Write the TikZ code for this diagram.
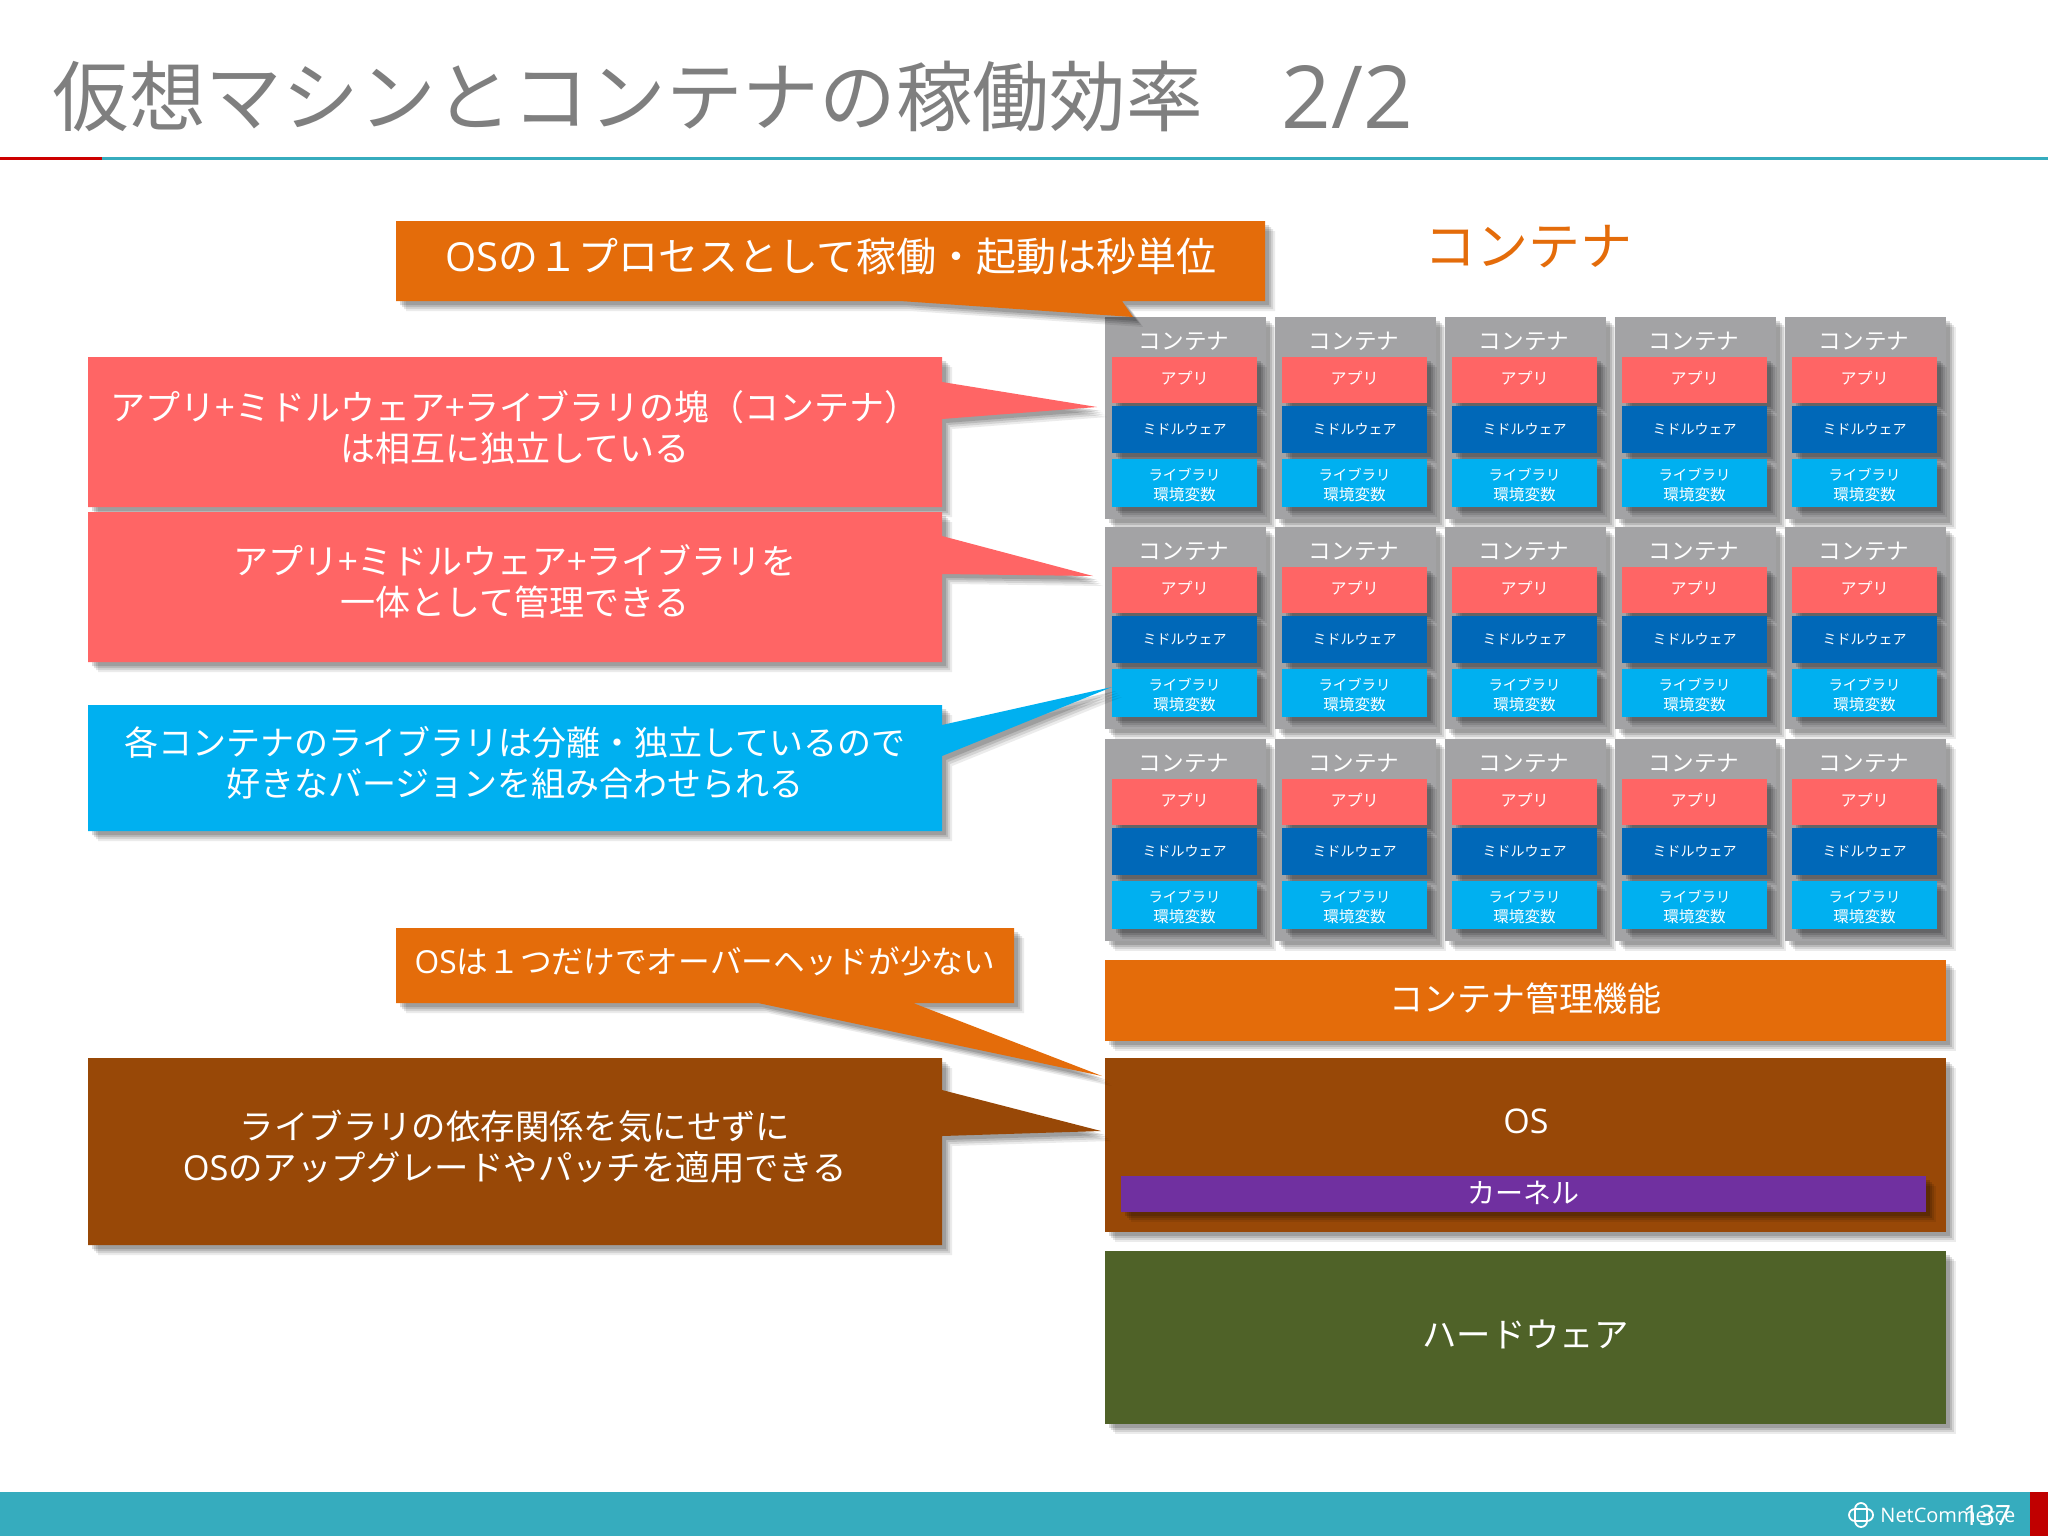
\documentclass[tikz,border=0pt]{standalone}
\usepackage{fontspec}
\setmainfont{Noto Sans CJK JP}
\newfontfamily\latinf{Open Sans}
\definecolor{cpink}{HTML}{FF6565}
\definecolor{cmid}{HTML}{0068B8}
\definecolor{clib}{HTML}{00B0F0}
\definecolor{corange}{HTML}{E46C0A}
\definecolor{cbrown}{HTML}{984807}
\definecolor{cpurple}{HTML}{7030A0}
\definecolor{cgreen}{HTML}{4F6228}
\definecolor{cgray}{HTML}{A3A3A5}
\definecolor{ctitle}{HTML}{7F7F7F}
\definecolor{cteal}{HTML}{36ACBE}
\definecolor{cred}{HTML}{C00000}
\newcommand\fs[1]{\fontsize{#1}{#1}\selectfont}
\newcommand\bx[7]{\pgfmathsetmacro\bw{(#4-#2)*0.5}\pgfmathsetmacro\bh{(#5-#3)*0.5}%
 \node[inner sep=0pt,outer sep=0pt,minimum width=\bw pt,minimum height=\bh pt,anchor=north west,align=center,#6] (#1) at (#2,#3) {#7};}
\tikzset{
 softshadow/.style={
  preaction={fill=black,opacity=.08,transform canvas={shift={(5pt,-5pt)}}},
  preaction={fill=black,opacity=.10,transform canvas={shift={(4pt,-4pt)}}},
  preaction={fill=black,opacity=.12,transform canvas={shift={(3pt,-3pt)}}},
  preaction={fill=black,opacity=.14,transform canvas={shift={(2pt,-2pt)}}}},
 wt/.style={text=white},
 calltext/.style={text=white,inner sep=0pt,align=center,font=\fontsize{#1}{20.5}\selectfont},
}
\begin{document}
\begin{tikzpicture}[x=0.5pt,y=-0.5pt]
\useasboundingbox (0,0) rectangle (2048,1536);
\fill[white] (0,0) rectangle (2048,1536);
% header
\node[anchor=west,inner sep=0pt,text=ctitle] (title) at (52,97) {\fs{38.35}仮想マシンとコンテナの稼働効率};
\node[anchor=west,inner sep=0pt,text=ctitle] (titlenum) at (1281,97) {\fs{43.5}\latinf 2/2};
\coordinate (la) at (0,158); \coordinate (lb) at (102,158); \coordinate (lc) at (2048,158);
\draw[cteal,line width=1.5pt] (lb) -- (lc);
\draw[cred!80!red,line width=1.5pt] (la) -- (lb);
\node[text=corange,inner sep=0pt] (ctitle2) at (1528,247) {\fs{26}コンテナ};
% container grid
\foreach \r/\yy in {0/317,1/527,2/739}{
 \foreach \c/\xx in {0/1105,1/1275,2/1445,3/1615,4/1785}{
  \pgfmathsetmacro\xa{\xx+161}\pgfmathsetmacro\yb{\yy+202}
  \bx{cont\r\c}{\xx}{\yy}{\xa}{\yb}{fill=cgray,softshadow}{}
  \node[wt,inner sep=0pt] (clabel\r\c) at (\xx+79,\yy+24) {\fs{11.3}コンテナ};
  \pgfmathsetmacro\xl{\xx+7}\pgfmathsetmacro\xr{\xx+152}
  \pgfmathsetmacro\ya{\yy+40}\pgfmathsetmacro\yc{\yy+86}
  \bx{app\r\c}{\xl}{\ya}{\xr}{\yc}{fill=cpink,wt,softshadow}{\raisebox{2.5pt}{\fs{8}アプリ}}
  \pgfmathsetmacro\ya{\yy+89}\pgfmathsetmacro\yc{\yy+136}
  \bx{mid\r\c}{\xl}{\ya}{\xr}{\yc}{fill=cmid,wt,softshadow}{\raisebox{-2pt}{\fs{7}ミドルウェア}}
  \pgfmathsetmacro\ya{\yy+142}\pgfmathsetmacro\yc{\yy+190}
  \bx{lib\r\c}{\xl}{\ya}{\xr}{\yc}{fill=clib,softshadow}{}
  \node[wt,inner sep=0pt,align=center,font=\fontsize{7.2}{10}\selectfont] (libtext\r\c) at (\xx+79.5,\yy+168) {ライブラリ\\\fontsize{7.8}{10}\selectfont 環境変数};
 }
}
% layers
\bx{mgmt}{1105}{960}{1946}{1041}{fill=corange,wt,softshadow}{\raisebox{3.5pt}{\fs{17}コンテナ管理機能}}
\bx{os}{1105}{1058}{1946}{1232}{fill=cbrown,softshadow}{}
\node[wt,inner sep=0pt] (oslabel) at (1526,1121) {\fs{17}\latinf OS};
\bx{kernel}{1121}{1176}{1926}{1212}{fill=cpurple,wt,softshadow}{\raisebox{2pt}{\fs{14}カーネル}}
\bx{hw}{1105}{1251}{1946}{1424}{fill=cgreen,wt,softshadow}{\raisebox{4pt}{\fs{17.2}ハードウェア}}
% callouts
\fill[corange,softshadow] (396,221) -- (1265,221) -- (1265,301) -- (1122,301) -- (1133,317) -- (900,301) -- (396,301) -- cycle;
\node[wt,inner sep=0pt] (call1) at (831,256) {\fs{20}{\latinf OS}の１プロセスとして稼働・起動は秒単位};
\fill[cpink,softshadow] (88,357) -- (942,357) -- (942,382) -- (1097,407) -- (942,419) -- (942,507) -- (88,507) -- cycle;
\node[calltext=17.5] (call2) at (515,427) {アプリ+ミドルウェア+ライブラリの塊（コンテナ）\\は相互に独立している};
\fill[cpink,softshadow] (88,512) -- (942,512) -- (942,536) -- (1093,576) -- (942,574) -- (942,662) -- (88,662) -- cycle;
\node[calltext=17.5] (call3) at (515,581) {アプリ+ミドルウェア+ライブラリを\\一体として管理できる};
\fill[clib,softshadow] (88,705) -- (942,705) -- (942,725) -- (1112,687) -- (942,756) -- (942,831) -- (88,831) -- cycle;
\node[calltext=17] (call4) at (515,763) {各コンテナのライブラリは分離・独立しているので\\好きなバージョンを組み合わせられる};
\fill[corange,softshadow] (396,928) -- (1014,928) -- (1014,1003) -- (913,1003) -- (1102,1076) -- (758,1003) -- (396,1003) -- cycle;
\node[wt,inner sep=0pt] (call5) at (705,961) {\fs{15.85}{\latinf OS}は１つだけでオーバーヘッドが少ない};
\fill[cbrown,softshadow] (88,1058) -- (942,1058) -- (942,1090) -- (1101,1131) -- (942,1136) -- (942,1245) -- (88,1245) -- cycle;
\node[calltext=17.2] (call6) at (515,1147) {ライブラリの依存関係を気にせずに\\{\latinf OS}のアップグレードやパッチを適用できる};
% footer
\fill[cteal] (0,1492) rectangle (2048,1536);
\fill[cred] (2030,1492) rectangle (2048,1536);
\begin{scope}[white,line width=.9pt]
 \draw[rounded corners=3pt] (1849,1509) rectangle (1873,1521);
 \draw[rounded corners=3pt] (1855,1503) rectangle (1867,1527);
\end{scope}
\node[wt,inner sep=0pt,anchor=west] (logo) at (1880,1515) {\fontsize{10}{12}\selectfont\latinf NetCommerce};
\node[wt,inner sep=0pt] (pageno) at (1987,1515) {\fontsize{14}{16}\selectfont\latinf 137};
\end{tikzpicture}
\end{document}
